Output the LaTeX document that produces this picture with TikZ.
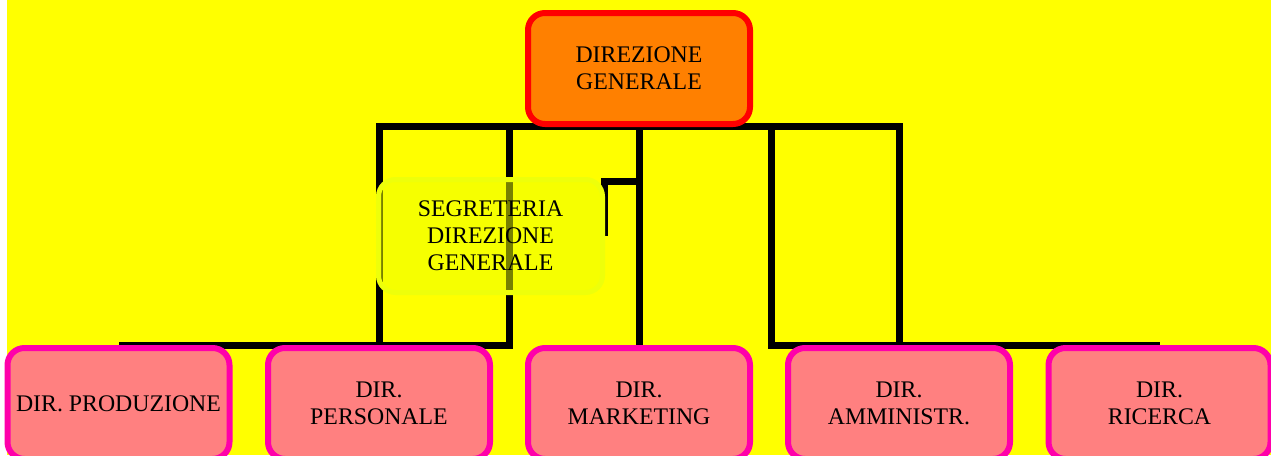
\documentclass[tikz,border=0pt]{standalone}
\usepackage{fontspec}
\setmainfont{Liberation Serif}
\pgfdeclarelayer{bg}
\pgfdeclarelayer{lines}
\pgfsetlayers{bg,lines,main}
\definecolor{bgyellow}{RGB}{255,255,0}
\definecolor{dgfill}{RGB}{255,128,0}
\definecolor{dgdraw}{RGB}{255,0,0}
\definecolor{dirfill}{RGB}{255,128,128}
\definecolor{dirdraw}{RGB}{255,0,170}
\definecolor{segfill}{RGB}{238,255,0}
\definecolor{segdraw}{RGB}{238,255,10}
\tikzset{
  conn/.style={draw=black, line width=7pt, line join=miter},
  boxtext/.style={font=\fontsize{23.8}{27}\selectfont, align=center, text=black},
  dgbox/.style={boxtext, draw=dgdraw, fill=dgfill, line width=6pt, rounded corners=17pt,
    minimum width=222pt, minimum height=111pt, inner sep=0pt},
  dirbox/.style={boxtext, draw=dirdraw, fill=dirfill, line width=6pt, rounded corners=17pt,
    minimum width=222pt, minimum height=111pt, inner sep=0pt},
  segbox/.style={boxtext, draw=segdraw, fill=segfill, fill opacity=0.5, text opacity=1,
    draw opacity=1, line width=5pt, rounded corners=17pt,
    minimum width=224pt, minimum height=113pt, inner sep=0pt}
}
\begin{document}
\begin{tikzpicture}[x=1pt,y=-1pt]
\useasboundingbox (0,0) rectangle (1271,455);
\begin{pgfonlayer}{bg}
\fill[white] (0,0) rectangle (1271,455);
\fill[bgyellow] (7,0) rectangle (1271,455);
\end{pgfonlayer}
% boxes
\node[dgbox] (dg) at (639,68.5) {DIREZIONE\\GENERALE};
\node[dirbox] (p1) at (118.5,403.5) {DIR. PRODUZIONE};
\node[dirbox] (p2) at (379,403.5) {DIR.\\PERSONALE};
\node[dirbox] (p3) at (639,403.5) {DIR.\\MARKETING};
\node[dirbox] (p4) at (899,403.5) {DIR.\\AMMINISTR.};
\node[dirbox] (p5) at (1159.5,403.5) {DIR.\\RICERCA};
\node[segbox] (seg) at (490.5,236) {SEGRETERIA\\DIREZIONE\\GENERALE};
% bend coordinates
\coordinate (hub) at (639,126);
\coordinate (k1) at (509,345);
\coordinate (k2) at (771,345);
\coordinate (s1) at (639,181.5);
\coordinate (se) at (604.5,236);
% connectors, beneath the boxes
\begin{pgfonlayer}{lines}
\draw[conn] (hub) -| (p2.north);
\draw[conn] (hub) -| (k1) -| (p1.north);
\draw[conn] (hub) -- (p3.north);
\draw[conn] (hub) -| (k2) -| (p5.north);
\draw[conn] (hub) -| (p4.north);
\draw[conn] (s1) -| (se);
\end{pgfonlayer}
\end{tikzpicture}
\end{document}
